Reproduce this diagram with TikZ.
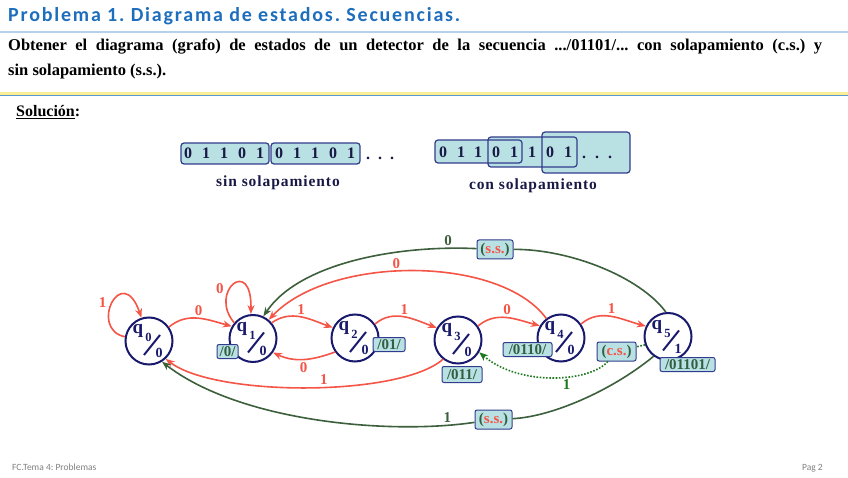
\documentclass[tikz,border=0pt]{standalone}
\usepackage{fontspec}
\setmainfont{Liberation Serif}
\newfontfamily\titlefont[LetterSpace=9]{Carlito}
\newfontfamily\piefont{Carlito}
\newfontfamily\espfont[LetterSpace=6]{Liberation Serif}
\usepackage{tikz}
\usetikzlibrary{arrows.meta,calc,positioning}
\usepackage{xcolor}
\frenchspacing

\definecolor{titleblue}{RGB}{30,110,190}
\definecolor{navy}{RGB}{25,25,110}
\definecolor{darknavy}{RGB}{25,25,70}
\definecolor{boxfill}{RGB}{185,225,228}
\definecolor{boxborder}{RGB}{50,60,140}
\definecolor{edgered}{RGB}{245,85,70}
\definecolor{edgegreen}{RGB}{60,95,60}
\definecolor{dotgreen}{RGB}{30,120,30}
\definecolor{lblgreen}{RGB}{50,95,65}
\definecolor{lineblue}{RGB}{90,150,210}
\definecolor{glow}{RGB}{250,238,150}

\newcommand{\tam}[1]{\fontsize{#1}{#1}\selectfont}

% estado: nombre, x, y, indice, salida
\newcommand{\estado}[5]{%
  \node[estado] (#1) at (#2,#3) {};
  \draw[navy,line width=2pt] ($(#1)+(-5,-14)$) -- ($(#1)+(11,6)$);
  \node[navy,font=\bfseries\tam{19}] at ($(#1)+(-11,10)$) {q};
  \node[navy,font=\bfseries\tam{12.5}] at ($(#1)+(-0.5,3.5)$) {#4};
  \node[navy,font=\bfseries\tam{14}] at ($(#1)+(10,-12)$) {#5};
}

\tikzset{
  estado/.style={circle,draw=navy,line width=2pt,fill=white,minimum size=47pt,inner sep=0pt},
  salida/.style={draw=boxborder,fill=boxfill,rounded corners=2pt,line width=1pt,
    inner xsep=2pt,inner ysep=1pt,minimum height=14pt,text=lblgreen,font=\bfseries\tam{15}},
  caja/.style={draw=boxborder,line width=1.2pt,rounded corners=3pt},
  digito/.style={text=darknavy,font=\bfseries\tam{16},inner sep=0pt},
  roja/.style={draw=edgered,line width=1.6pt,-{Stealth[length=9pt,width=7pt]}},
  verde/.style={draw=edgegreen,line width=1.6pt,-{Stealth[length=9pt,width=7pt]}},
  punteada/.style={draw=dotgreen,line width=1.6pt,dash pattern=on 1.6pt off 1.6pt,-{Stealth[length=9pt,width=7pt]}},
  etiq/.style={font=\bfseries\tam{15},inner sep=2pt}
}

\begin{document}
\begin{tikzpicture}[x=1pt,y=1pt]

  \fill[white] (0,0) rectangle (848,477);
  \useasboundingbox (0,0) rectangle (848,477);

  % cabecera
  \node[anchor=base west,inner sep=0pt,text=titleblue,font=\titlefont\bfseries\tam{20}] (titulo) at (8,455)
    {Problema 1. Diagrama de estados. Secuencias.};
  \draw[lineblue!45,line width=1.2pt] (0,445) -- (848,445);

  \node[anchor=base west,inner sep=0pt,font=\bfseries\tam{16.5}] (enun1) at (8,426)
    {\makebox[814pt][s]{Obtener el diagrama (grafo) de estados de un detector de la secuencia .../01101/...\ con solapamiento (c.s.) y}};
  \node[anchor=base west,inner sep=0pt,font=\bfseries\tam{16.5}] (enun2) at (8,401)
    {sin solapamiento (s.s.).};

  \draw[glow,line width=3.5pt] (0,383.5) -- (848,383.5);
  \draw[lineblue,line width=1.5pt] (0,381.3) -- (848,381.3);

  \node[anchor=base west,inner sep=0pt,font=\bfseries\tam{16}] (sol) at (16,360) {\underline{Solución}:};

  % secuencias
  \fill[boxfill] (181,313) rectangle (269,334);
  \fill[boxfill] (271,313) rectangle (360,334);
  \draw[caja] (181,313) rectangle (269,334);
  \draw[caja] (271,313) rectangle (360,334);
  \foreach \x/\d in {188/0,206/1,224/1,242/0,260/1,279/0,297/1,315/1,333/0,351/1}
    \node[digito] at (\x,324) {\d};
  \foreach \x in {368,380,392}
    \node[digito] at (\x,319) {.};
  \node[text=darknavy,font=\espfont\bfseries\tam{15.5}] (sinsol) at (278,294) {sin solapamiento};

  \fill[boxfill,rounded corners=3pt] (435,314) rectangle (522,337);
  \fill[boxfill,rounded corners=3pt] (488,310) rectangle (577,340);
  \fill[boxfill,rounded corners=3pt] (542,304) rectangle (630,345);
  \draw[caja] (435,314) rectangle (522,337);
  \draw[caja] (488,310) rectangle (577,340);
  \draw[caja] (542,304) rectangle (630,345);
  \foreach \x/\d in {443/0,461/1,478/1,496/0,514/1,532/1,550/0,568/1}
    \node[digito] at (\x,325) {\d};
  \foreach \x in {584,597,610}
    \node[digito] at (\x,320) {.};
  \node[text=darknavy,font=\espfont\bfseries\tam{15.5}] (consol) at (533,291) {con solapamiento};

  % estados
  \estado{q0}{149}{136}{0}{0}
  \estado{q1}{253}{138.5}{1}{0}
  \estado{q2}{355}{139}{2}{0}
  \estado{q3}{458}{137}{3}{0}
  \estado{q4}{561}{139}{4}{0}
  \estado{q5}{668}{140.5}{5}{1}

  % cajas de salida
  \node[salida,minimum width=21pt] (o1) at (227.5,125.5) {/0/};
  \node[salida,minimum width=32pt] (o2) at (389,132.5) {/01/};
  \node[salida,minimum width=40pt,minimum height=16pt] (o3) at (462,102.5) {/011/};
  \node[salida,minimum width=49pt] (o4) at (527.5,127.5) {/0110/};
  \node[salida,minimum width=55pt] (o5) at (687.5,112.5) {/01101/};
  \node[salida,minimum width=39pt,minimum height=19pt] (cs) at (616.5,125.5)
    {(\textcolor{edgered}{c.s.})};
  \node[salida,minimum width=36pt,minimum height=19pt] (ss1) at (495,227.5)
    {(\textcolor{edgered}{s.s.})};
  \node[salida,minimum width=37pt,minimum height=19pt] (ss2) at (493.5,57.5)
    {(\textcolor{edgered}{s.s.})};

  % transiciones
  \draw[roja] (q0.170) .. controls (88,148) and (122,216) .. (q0.108)
    node[pos=0.4,above left,etiq,text=edgered] {1};
  \draw[roja] (q0.35) to[out=40,in=165] node[above,etiq,text=edgered] {0} (q1.150);
  \draw[roja] (q1.140) .. controls (208,185) and (252,222) .. (q1.95)
    node[pos=0.3,above left,etiq,text=edgered] {0};
  \draw[roja] (q1.40) to[out=35,in=160] node[above,etiq,text=edgered] {1} (q2.155);
  \draw[roja] (q2.215) to[out=200,in=-25] node[below,etiq,text=edgered] {0} (q1.-35);
  \draw[roja] (q2.35) to[out=40,in=160] node[above,etiq,text=edgered] {1} (q3.150);
  \draw[roja] (q3.232) .. controls (400,80) and (215,80) .. (q0.313)
    node[pos=0.45,above,etiq,text=edgered] {1};
  \draw[roja] (q3.35) to[out=40,in=165] node[above,etiq,text=edgered] {0} (q4.150);
  \draw[roja] (q4.127) .. controls (500,222) and (330,222) .. (q1.50)
    node[pos=0.55,above,etiq,text=edgered] {0};
  \draw[roja] (q4.35) to[out=40,in=165] node[above,etiq,text=edgered] {1} (q5.155);

  \draw[verde] (q5.95) .. controls (640,200) and (570,228) .. (ss1)
    (ss1) .. controls (400,232) and (300,215) .. (q1.65)
    node[pos=0.12,above,etiq,text=edgegreen] {0};
  \draw[verde] (q5.234) .. controls (610,85) and (550,60) .. (ss2)
    (ss2) .. controls (390,42) and (240,55) .. (q0.302)
    node[pos=0.1,above,etiq,text=edgegreen] {1};
  \draw[punteada] (q5.200) -- (cs)
    (cs) .. controls (590,95) and (520,90) .. (q3.330)
    node[pos=0.4,below,etiq,text=dotgreen] {1};

  % pie
  \node[anchor=base west,inner sep=0pt,text=gray,font=\piefont\tam{9.5}] (pie1) at (12,7) {FC.Tema 4: Problemas};
  \node[anchor=base east,inner sep=0pt,text=gray,font=\piefont\tam{9.5}] (pie2) at (823,7) {Pag 2};

\end{tikzpicture}
\end{document}
